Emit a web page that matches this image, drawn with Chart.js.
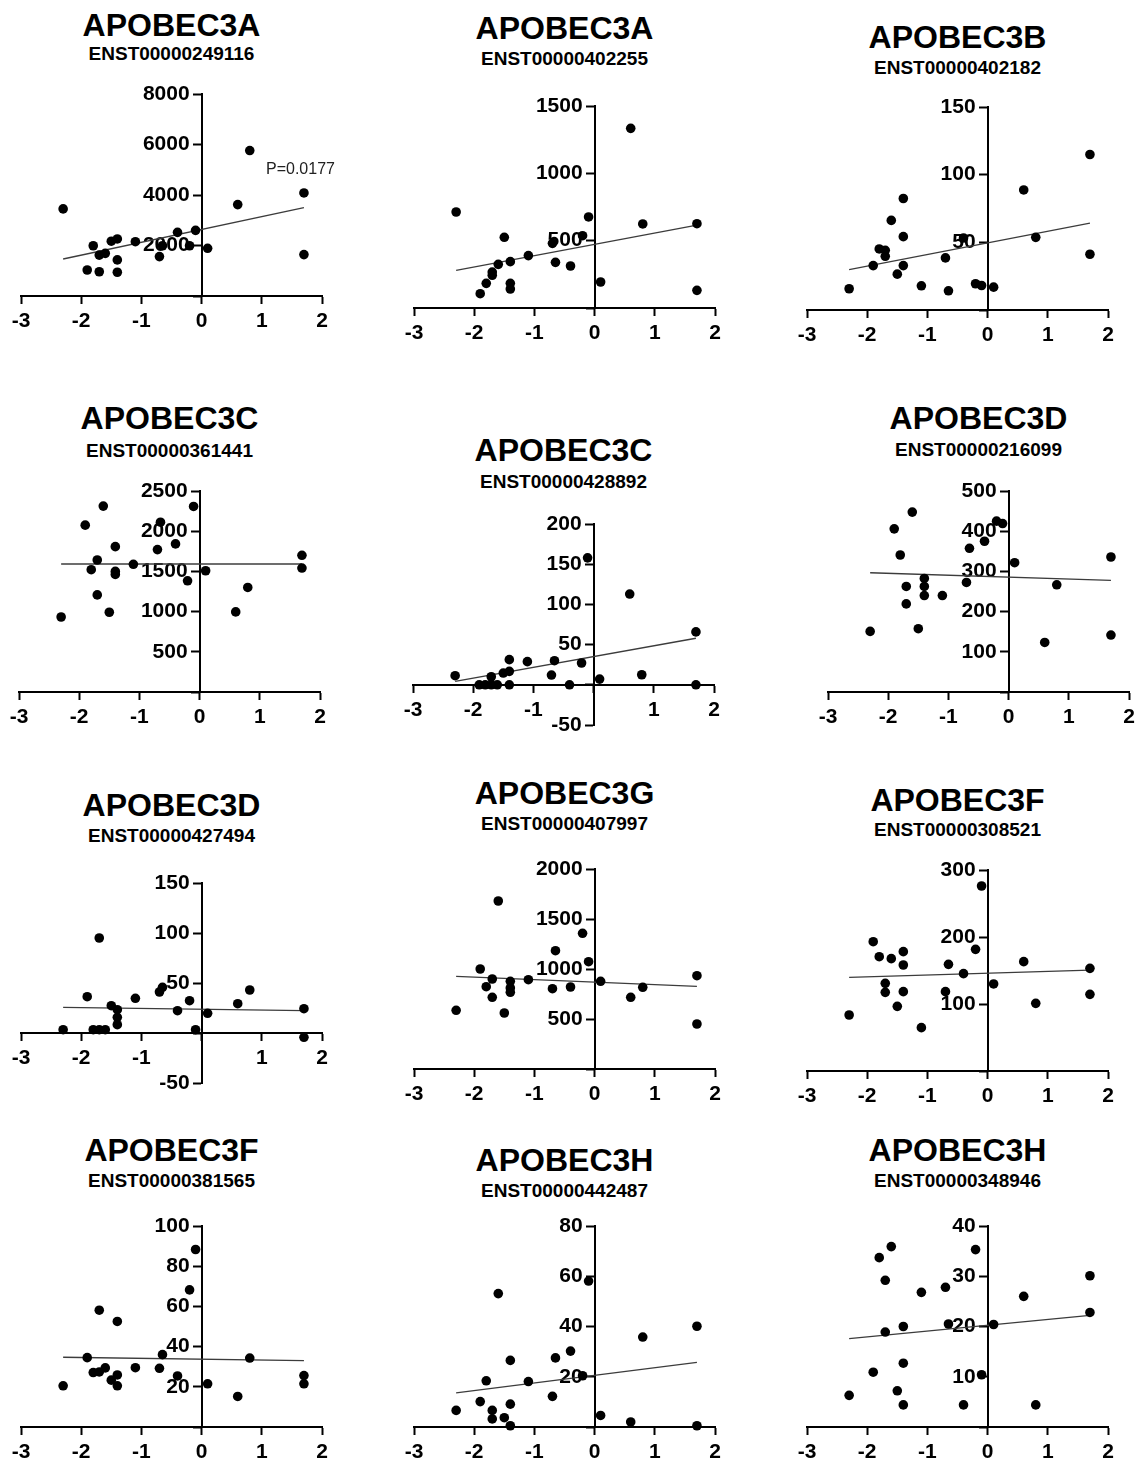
<!DOCTYPE html>
<html>
<head>
<meta charset="utf-8">
<script src="https://cdn.jsdelivr.net/npm/chart.js@4.4.1/dist/chart.umd.min.js"></script>
<style>
  html, body { margin: 0; padding: 0; background: #fff; }
  body { position: relative; width: 1138px; height: 1460px; overflow: hidden;
         font-family: "Liberation Sans", Arial, Helvetica, sans-serif; color: #000; }
  canvas { position: absolute; }
  .title { position: absolute; transform: translateX(-50%); white-space: nowrap;
           font-weight: bold; line-height: 1; }
  .gene { font-size: 32px; }
  .tx { font-size: 19px; }
  .note { position: absolute; font-size: 16px; line-height: 1; color: #222; white-space: nowrap; }
</style>
</head>
<body>
<script>
// Shared sample scores on the x axis (same samples in every panel)
const sampleX = [-2.3, -1.9, -1.8, -1.7, -1.7, -1.6, -1.5, -1.4, -1.4, -1.4, -1.1,
                 -0.7, -0.65, -0.4, -0.2, -0.1, 0.1, 0.6, 0.8, 1.7, 1.7];

const geneNames = ["APOBEC3A", "APOBEC3A", "APOBEC3B",
                   "APOBEC3C", "APOBEC3C", "APOBEC3D",
                   "APOBEC3D", "APOBEC3G", "APOBEC3F",
                   "APOBEC3F", "APOBEC3H", "APOBEC3H"];
const transcriptIds = ["ENST00000249116", "ENST00000402255", "ENST00000402182",
                       "ENST00000361441", "ENST00000428892", "ENST00000216099",
                       "ENST00000427494", "ENST00000407997", "ENST00000308521",
                       "ENST00000381565", "ENST00000442487", "ENST00000348946"];

// Expression values per transcript, in the order of sampleX
const expr249116 = [3450, 1030, 1990, 1620, 960, 1690, 2170, 2260, 1430, 940, 2150,
                    1560, 1990, 2520, 1990, 2600, 1890, 3620, 5760, 4080, 1640];
const expr402255 = [713, 106, 183, 243, 267, 324, 525, 183, 141, 344, 389,
                    480, 339, 312, 537, 676, 193, 1334, 624, 626, 131];
const expr402182 = [15.7, 32.8, 45.1, 44.1, 39.7, 66.2, 26.5, 82.4, 54.2, 32.8, 17.9,
                    38.5, 14.2, 53.2, 19.4, 18.1, 16.9, 88.7, 53.7, 114.9, 41.2];
const expr361441 = [933, 2075, 1521, 1642, 1208, 2312, 992, 1808, 1500, 1462, 1588,
                    1771, 2112, 1842, 1383, 2308, 1508, 996, 1300, 1700, 1542];
const expr428892 = [11.3, 0, 0, 10, 0, 0, 14.6, 16.7, 31.3, 0, 28.8,
                    12.1, 30, 0, 27.1, 157.9, 7.1, 112.9, 12.5, 65.8, 0];
const expr216099 = [150.8, 405.8, 340.8, 262.5, 219.2, 447.5, 157.5, 282.5, 262.5, 240, 240,
                    272.5, 357.5, 375, 425, 419, 321.7, 123.3, 266.7, 335.8, 141.7];
const expr427494 = [3.3, 36.3, 3.3, 3.3, 95, 3.3, 27.3, 23.3, 15.7, 8.3, 34.7,
                    41, 45.7, 22.3, 32.3, 3.3, 19.7, 29.3, 43, 24.3, -4.3];
const expr407997 = [587, 1000, 823, 900, 717, 1680, 560, 877, 810, 767, 893,
                    803, 1183, 820, 1357, 1073, 877, 717, 817, 933, 450];
const expr308521 = [83.6, 193, 170.6, 130.8, 117.4, 167.7, 96.5, 178.1, 158.2, 118.4, 64.7,
                    118.4, 159.2, 145.3, 181.6, 276.1, 129.9, 163.2, 101, 153.2, 114.4];
const expr381565 = [20.5, 34.5, 27.1, 27.4, 58.1, 29.4, 23.3, 52.5, 25.9, 20.5, 29.5,
                    29.2, 36, 25.4, 68.2, 88.3, 21.5, 15.2, 34.3, 25.6, 21.5];
const expr442487 = [6.6, 10.1, 18.4, 6.6, 3.2, 53.1, 3.7, 26.5, 9.1, 0.5, 18.1,
                    12.2, 27.5, 30.2, 20.4, 58.1, 4.6, 2.0, 35.8, 40.1, 0.5];
const expr348946 = [6.3, 10.9, 33.7, 29.2, 18.9, 35.9, 7.2, 20, 12.7, 4.4, 26.8,
                    27.8, 20.5, 4.4, 35.3, 10.4, 20.4, 26, 4.4, 30.1, 22.8];

const panelValues = [expr249116, expr402255, expr402182,
                     expr361441, expr428892, expr216099,
                     expr427494, expr407997, expr308521,
                     expr381565, expr442487, expr348946];

// Linear fit: y at both ends of the fitted x range
const fitX = [-2.3, 1.7];
const fitY = [[1465, 3498], [280, 616], [29.9, 64.2],
              [1592, 1592], [4.2, 57.9], [296.7, 277.5],
              [25.7, 22.3], [927, 827], [139.8, 150.7],
              [34.7, 33.0], [13.6, 25.7], [17.6, 22.2]];

// Y axis ranges and tick steps
const yMin  = [0, 0, 0, 0, -50, 0, -50, 0, 0, 0, 0, 0];
const yMax  = [8000, 1500, 150, 2500, 200, 500, 150, 2000, 300, 100, 80, 40];
const yStep = [2000, 500, 50, 500, 50, 100, 50, 500, 100, 20, 20, 10];

// X axis
const xMin = -3, xMax = 2, xStep = 1;

// Page placement of each plot area (left, top, bottom) and title centre lines
const plotW = 301;
const boxes = [
  {L: 20.7,  T: 94,     B: 296,    tY: 25,   sY: 53},
  {L: 414,   T: 106,    B: 308,    tY: 28,   sY: 58},
  {L: 806.7, T: 106.7,  B: 309.5,  tY: 37,   sY: 67},
  {L: 19.3,  T: 491.3,  B: 692,    tY: 418,  sY: 450},
  {L: 413.3, T: 524.3,  B: 725,    tY: 450,  sY: 481},
  {L: 827.7, T: 490.7,  B: 691.7,  tY: 418,  sY: 449},
  {L: 20.7,  T: 882.7,  B: 1082.7, tY: 805,  sY: 835},
  {L: 414,   T: 869.3,  B: 1069.3, tY: 793,  sY: 823},
  {L: 806.7, T: 870,    B: 1071,   tY: 800,  sY: 829},
  {L: 20.7,  T: 1225.7, B: 1427,   tY: 1150, sY: 1180},
  {L: 414,   T: 1226,   B: 1427.3, tY: 1160, sY: 1190},
  {L: 807.3, T: 1225.7, B: 1426.7, tY: 1150, sY: 1180}
];

const PAD = {left: 45, right: 30, top: 20, bottom: 45};
const tickFont = {family: '"Liberation Sans", Arial, Helvetica, sans-serif', size: 21, weight: 'bold'};

// A y axis pinned to x = 0 places its labels right on the axis line;
// move them left past the tick marks and the tick padding.
const yLabelGap = {
  id: 'yLabelGap',
  beforeDraw(chart) {
    const s = chart.scales.y;
    const items = s.getLabelItems();
    if (items._gapApplied) return;
    const shift = s.options.grid.tickLength + s.options.ticks.padding;
    items.forEach(it => { it.options.translation[0] -= shift; });
    items._gapApplied = true;
  }
};

function addText(cls, text, x, y, size) {
  const d = document.createElement('div');
  d.className = cls;
  d.textContent = text;
  d.style.left = x + 'px';
  d.style.top = (y - size / 2) + 'px';
  document.body.appendChild(d);
  return d;
}

panelValues.forEach((vals, i) => {
  const b = boxes[i];
  const left = Math.round(b.L), top = Math.round(b.T), bottom = Math.round(b.B);
  const canvas = document.createElement('canvas');
  const cw = plotW + PAD.left + PAD.right;
  const ch = (bottom - top) + PAD.top + PAD.bottom;
  canvas.width = cw; canvas.height = ch;
  canvas.style.width = cw + 'px'; canvas.style.height = ch + 'px';
  canvas.style.left = (left - PAD.left) + 'px';
  canvas.style.top = (top - PAD.top) + 'px';
  document.body.appendChild(canvas);

  const hideZeroX = yMin[i] < 0;

  new Chart(canvas, {
    type: 'scatter',
    data: {
      datasets: [
        {
          data: sampleX.map((x, k) => ({x, y: vals[k]})),
          backgroundColor: '#000',
          borderColor: '#000',
          borderWidth: 0,
          pointRadius: 4.8,
          pointHoverRadius: 4.8,
          clip: false,
          order: 1
        },
        {
          data: fitX.map((x, k) => ({x, y: fitY[i][k]})),
          showLine: true,
          borderColor: '#3c3c3c',
          borderWidth: 1.3,
          pointRadius: 0,
          pointHoverRadius: 0,
          fill: false,
          clip: false,
          order: 2
        }
      ]
    },
    options: {
      responsive: false,
      animation: false,
      events: [],
      layout: {padding: PAD},
      plugins: {legend: {display: false}, tooltip: {enabled: false}, title: {display: false}},
      scales: {
        x: {
          type: 'linear',
          min: xMin, max: xMax,
          position: {y: 0},
          border: {display: true, color: '#000', width: 2},
          grid: {display: true, drawOnChartArea: false, drawTicks: true,
                 tickLength: 7, tickWidth: 2, tickColor: '#000'},
          ticks: {
            stepSize: xStep, color: '#000', font: tickFont, padding: 6,
            maxRotation: 0, autoSkip: false,
            callback: v => (hideZeroX && v === 0) ? '' : String(v)
          }
        },
        y: {
          type: 'linear',
          min: yMin[i], max: yMax[i],
          position: {x: 0},
          border: {display: true, color: '#000', width: 2},
          grid: {display: true, drawOnChartArea: false, drawTicks: true,
                 tickLength: 8, tickWidth: 2, tickColor: '#000'},
          ticks: {
            stepSize: yStep[i], color: '#000', font: tickFont, padding: 4,
            autoSkip: false,
            callback: v => v === 0 ? '' : String(v)
          }
        }
      }
    },
    plugins: [yLabelGap]
  });

  const cx = left + plotW / 2;
  addText('title gene', geneNames[i], cx, b.tY, 32);
  addText('title tx', transcriptIds[i], cx, b.sY, 19);
});

// Significance note on the first panel
addText('note', 'P=0.0177', 266, 169, 16);
</script>
</body>
</html>
